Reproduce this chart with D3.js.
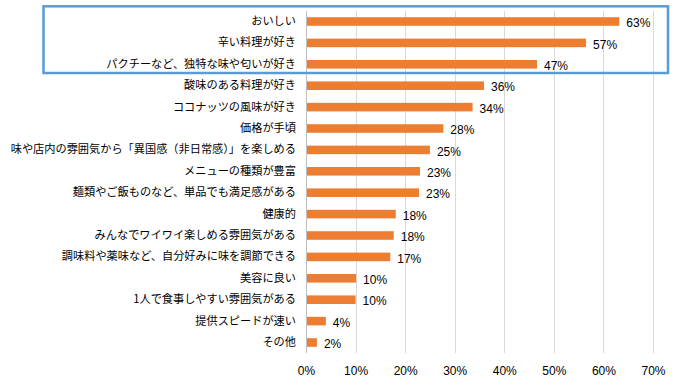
<!DOCTYPE html>
<html>
<head>
<meta charset="utf-8">
<script src="https://cdnjs.cloudflare.com/ajax/libs/d3/7.8.5/d3.min.js"></script>
<style>
  body { margin: 0; background: #fff; }
  text { font-family: "Noto Sans CJK JP", "Noto Sans", sans-serif; }
</style>
</head>
<body>
<div id="graph1"></div>
<script>
// data
const reasons = [
    "おいしい",
    "辛い料理が好き",
    "パクチーなど、独特な味や匂いが好き",
    "酸味のある料理が好き",
    "ココナッツの風味が好き",
    "価格が手頃",
    "味や店内の雰囲気から「異国感（非日常感）」を楽しめる",
    "メニューの種類が豊富",
    "麺類やご飯ものなど、単品でも満足感がある",
    "健康的",
    "みんなでワイワイ楽しめる雰囲気がある",
    "調味料や薬味など、自分好みに味を調節できる",
    "美容に良い",
    "1人で食事しやすい雰囲気がある",
    "提供スピードが速い",
    "その他"
];
const shares = [63.2, 56.5, 46.6, 35.9, 33.6, 27.7, 25.0, 23.0, 22.8, 18.1, 17.7, 17.0, 10.1, 10.0, 4.0, 2.2];
const shareLabels = ["63%", "57%", "47%", "36%", "34%", "28%", "25%", "23%", "23%", "18%", "18%", "17%", "10%", "10%", "4%", "2%"];
const xTicks = [0, 10, 20, 30, 40, 50, 60, 70];
const highlighted = 3; // first three rows are boxed

const width = 681, height = 392;
const plot = { left: 306, right: 653, top: 11, bottom: 353 };
const numFont = "'Liberation Sans Narrow', 'Liberation Sans', Arial, sans-serif";

let data = reasons.map((r, i) => ({ reason: r, value: shares[i], label: shareLabels[i] }));

let svg = d3.select("#graph1")
    .append("svg")
    .attr("width", width)
    .attr("height", height);

let x = d3.scaleLinear()
    .domain([0, 70])
    .range([plot.left, plot.right]);

let y = d3.scaleBand()
    .domain(reasons)
    .range([10.8, 353.2])
    .paddingInner(0.6)
    .paddingOuter(0.3);

// vertical gridlines
svg.append("g")
    .selectAll("line")
    .data(xTicks.slice(1))
    .enter()
    .append("line")
    .attr("x1", d => Math.round(x(d)) + 0.5)
    .attr("x2", d => Math.round(x(d)) + 0.5)
    .attr("y1", plot.top)
    .attr("y2", plot.bottom)
    .attr("stroke", "#d9d9d9")
    .attr("stroke-width", 1);

// x tick labels
let xAxis = svg.append("g")
    .attr("transform", `translate(0, ${plot.bottom})`)
    .call(d3.axisBottom(x).tickValues(xTicks).tickSize(0).tickPadding(13).tickFormat(d => d + "%"));
xAxis.select(".domain").remove();
xAxis.selectAll("text")
    .style("font-family", numFont)
    .style("font-size", "12px")
    .attr("fill", "#000");

// bars
svg.selectAll("rect.bar")
    .data(data)
    .enter()
    .append("rect")
    .attr("class", "bar")
    .attr("fill", "#ed7d31")
    .attr("x", x(0))
    .attr("y", d => y(d.reason))
    .attr("width", d => x(d.value) - x(0))
    .attr("height", y.bandwidth());

// category axis
let yAxis = svg.append("g")
    .attr("transform", `translate(${plot.left}, 0)`)
    .call(d3.axisLeft(y).tickSize(0).tickPadding(10));
yAxis.select(".domain")
    .attr("d", `M0.5,${plot.top}V${plot.bottom}`)
    .attr("stroke", "#bfbfbf");
yAxis.selectAll("text")
    .style("font-family", "'Noto Sans CJK JP', sans-serif")
    .style("font-size", "11.2px")
    .attr("fill", "#000");

// value labels
svg.selectAll("text.val")
    .data(data)
    .enter()
    .append("text")
    .attr("class", "val")
    .attr("x", d => x(d.value) + 7)
    .attr("y", d => y(d.reason) + y.bandwidth() / 2 + 1.5)
    .attr("dy", "0.35em")
    .style("font-family", numFont)
    .style("font-size", "12px")
    .attr("fill", "#000")
    .text(d => d.label);

// blue box round the top reasons
let firstBand = y(reasons[0]) - (y.step() - y.bandwidth()) / 2;
let lastBand = y(reasons[highlighted - 1]) + y.bandwidth() + (y.step() - y.bandwidth()) / 2;
svg.append("rect")
    .attr("x", 43.5)
    .attr("y", firstBand - 4.5)
    .attr("width", 624.5)
    .attr("height", lastBand - firstBand + 2.5)
    .attr("fill", "none")
    .attr("stroke", "#5b9bd5")
    .attr("stroke-width", 2.5);
</script>
</body>
</html>
